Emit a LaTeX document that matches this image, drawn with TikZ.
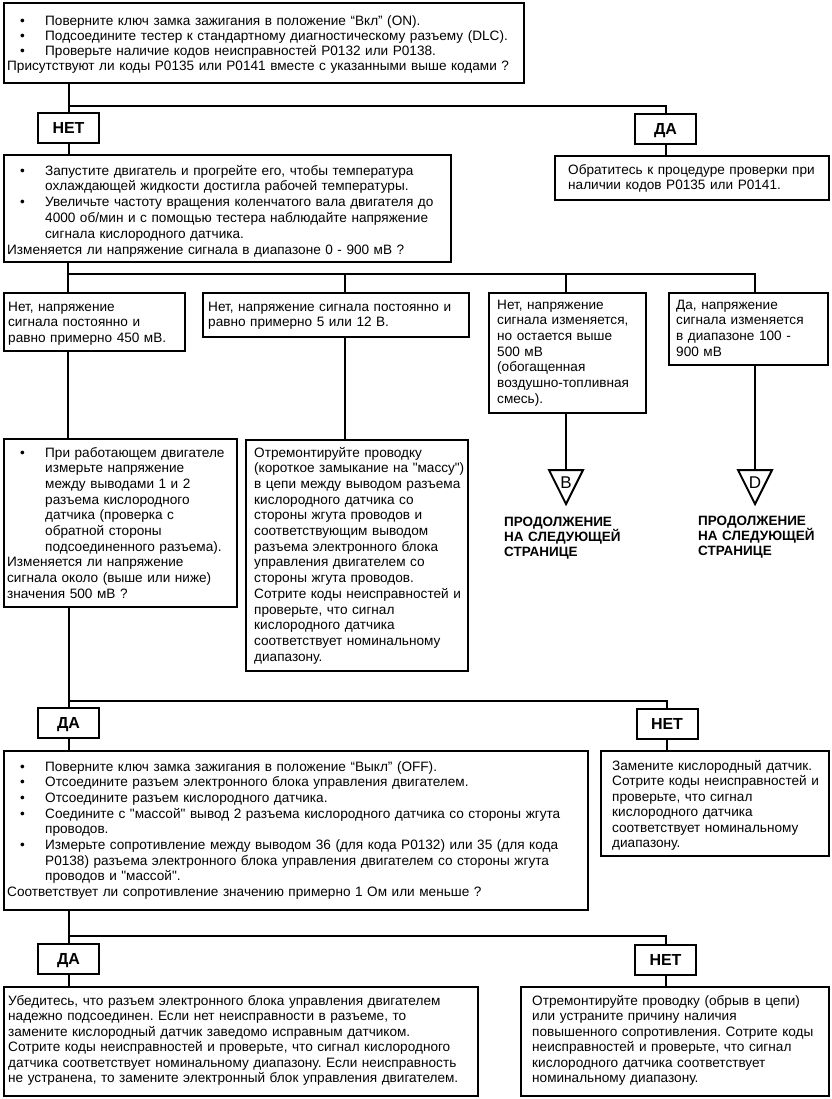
\documentclass[tikz,border=0pt]{standalone}
\usepackage{fontspec}
\setmainfont{Liberation Sans}[Ligatures=TeXOff]
\frenchspacing
\newcommand\bul{\hspace*{13bp}\makebox[25bp][l]{\textbullet}}
\newcommand\ind{\hspace*{38bp}}
\newcommand\mkbox[5]{\node[bx, minimum width={#4bp-#2bp}, minimum height={#5bp-#3bp}] (#1) at (#2,#3) {};}
\begin{document}
\frenchspacing
\begin{tikzpicture}[x=1bp,y=-1bp,
  bx/.style={draw, line width=2bp, inner sep=0pt, anchor=north west},
  txt/.style={inner sep=0pt, anchor=base west, text width=620bp, align=left},
  lbl/.style={draw, line width=2bp, inner sep=0pt, minimum width=61bp, minimum height=30bp, text height=11.6bp, text depth=0pt, font=\bfseries\fontsize{16bp}{18bp}\selectfont},
  cont/.style={inner sep=0pt, anchor=base west, text width=200bp, align=left, font=\bfseries\fontsize{13.5bp}{15bp}\selectfont},
  tri/.style={font=\fontsize{17bp}{18bp}\selectfont, inner sep=0pt},
  ln/.style={line width=2bp},
]
\useasboundingbox (0,0) rectangle (832,1099);
% boxes
\mkbox{b1}{3}{2}{523}{82}
\mkbox{b2}{3}{154}{450}{261}
\mkbox{b3}{554}{155}{828}{199}
\mkbox{bA}{3}{292}{184}{350}
\mkbox{bB}{202}{292}{468}{336}
\mkbox{bC}{488}{292}{645}{412}
\mkbox{bD}{668}{292}{827}{364}
\mkbox{bE}{3}{438}{236}{606}
\mkbox{bF}{245}{439}{467}{670}
\mkbox{bG}{3}{750}{587}{909}
\mkbox{bH}{600}{750}{828}{855}
\mkbox{bI}{3}{986}{477}{1095}
\mkbox{bJ}{520}{986}{828}{1095}
% labels
\node[lbl] (net1) at (68.5,127.5) {НЕТ};
\node[lbl] (da1) at (665.5,128.5) {ДА};
\node[lbl] (da2) at (68.5,723) {ДА};
\node[lbl] (net2) at (667,723.5) {НЕТ};
\node[lbl] (da3) at (68.5,958.5) {ДА};
\node[lbl] (net3) at (665.5,959.5) {НЕТ};
% texts
\begin{scope}[every node/.append style={font=\fontsize{13.6bp}{15bp}\selectfont}]
\node[txt] (t1) at (7,25) {\bul Поверните ключ замка зажигания в положение “Вкл” (ON).\\
\bul Подсоедините тестер к стандартному диагностическому разъему (DLC).\\
\bul Проверьте наличие кодов неисправностей P0132 или P0138.\\
Присутствуют ли коды P0135 или P0141 вместе с указанными выше кодами ?};
\node[txt] (t3) at (568,174) {Обратитесь к процедуре проверки при\\
наличии кодов P0135 или P0141.};
\end{scope}
\begin{scope}[every node/.append style={font=\fontsize{13.6bp}{15.8bp}\selectfont}]
\node[txt] (t2) at (7,175) {\bul Запустите двигатель и прогрейте его, чтобы температура\\
\ind охлаждающей жидкости достигла рабочей температуры.\\
\bul Увеличьте частоту вращения коленчатого вала двигателя до\\
\ind 4000 об/мин и с помощью тестера наблюдайте напряжение\\
\ind сигнала кислородного датчика.\\
Изменяется ли напряжение сигнала в диапазоне 0 - 900 мВ ?};
\node[txt] (tA) at (8,311) {Нет, напряжение\\
сигнала постоянно и\\
равно примерно 450 мВ.};
\node[txt] (tB) at (208,311) {Нет, напряжение сигнала постоянно и\\
равно примерно 5 или 12 В.};
\end{scope}
\begin{scope}[every node/.append style={font=\fontsize{13.6bp}{15.7bp}\selectfont}]
\node[txt] (tC) at (497,309) {Нет, напряжение\\
сигнала изменяется,\\
но остается выше\\
500 мВ\\
(обогащенная\\
воздушно-топливная\\
смесь).};
\node[txt] (tD) at (676,309) {Да, напряжение\\
сигнала изменяется\\
в диапазоне 100 -\\
900 мВ};
\node[txt] (tE) at (7,457) {\bul При работающем двигателе\\
\ind измерьте напряжение\\
\ind между выводами 1 и 2\\
\ind разъема кислородного\\
\ind датчика (проверка с\\
\ind обратной стороны\\
\ind подсоединенного разъема).\\
Изменяется ли напряжение\\
сигнала около (выше или ниже)\\
значения 500 мВ ?};
\node[txt] (tF) at (254,457) {Отремонтируйте проводку\\
(короткое замыкание на "массу")\\
в цепи между выводом разъема\\
кислородного датчика со\\
стороны жгута проводов и\\
соответствующим выводом\\
разъема электронного блока\\
управления двигателем со\\
стороны жгута проводов.\\
Сотрите коды неисправностей и\\
проверьте, что сигнал\\
кислородного датчика\\
соответствует номинальному\\
диапазону.};
\node[txt] (tG) at (7,771) {\bul Поверните ключ замка зажигания в положение “Выкл” (OFF).\\
\bul Отсоедините разъем электронного блока управления двигателем.\\
\bul Отсоедините разъем кислородного датчика.\\
\bul Соедините с "массой" вывод 2 разъема кислородного датчика со стороны жгута\\
\ind проводов.\\
\bul Измерьте сопротивление между выводом 36 (для кода P0132) или 35 (для кода\\
\ind P0138) разъема электронного блока управления двигателем со стороны жгута\\
\ind проводов и "массой".\\
Соответствует ли сопротивление значению примерно 1 Ом или меньше ?};
\end{scope}
\begin{scope}[every node/.append style={font=\fontsize{13.6bp}{15.5bp}\selectfont}]
\node[txt] (tH) at (612,770) {Замените кислородный датчик.\\
Сотрите коды неисправностей и\\
проверьте, что сигнал\\
кислородного датчика\\
соответствует номинальному\\
диапазону.};
\node[txt] (tI) at (8,1005) {Убедитесь, что разъем электронного блока управления двигателем\\
надежно подсоединен. Если нет неисправности в разъеме, то\\
замените кислородный датчик заведомо исправным датчиком.\\
Сотрите коды неисправностей и проверьте, что сигнал кислородного\\
датчика соответствует номинальному диапазону. Если неисправность\\
не устранена, то замените электронный блок управления двигателем.};
\node[txt] (tJ) at (532,1005) {Отремонтируйте проводку (обрыв в цепи)\\
или устраните причину наличия\\
повышенного сопротивления. Сотрите коды\\
неисправностей и проверьте, что сигнал\\
кислородного датчика соответствует\\
номинальному диапазону.};
\end{scope}
% triangles
\coordinate (trB) at (566,470);
\coordinate (trD) at (755,470);
\draw[ln, line join=miter] (549,470) -- (583,470) -- (566,504) -- cycle;
\draw[ln, line join=miter] (738,470) -- (772,470) -- (755,504) -- cycle;
\node[tri] (lB) at (566,483) {B};
\node[tri] (lD) at (755,483) {D};
\node[cont] (cB) at (504,526) {ПРОДОЛЖЕНИЕ\\НА СЛЕДУЮЩЕЙ\\СТРАНИЦЕ};
\node[cont] (cD) at (698,525) {ПРОДОЛЖЕНИЕ\\НА СЛЕДУЮЩЕЙ\\СТРАНИЦЕ};
% junction coordinates
\coordinate (j1) at (0,106);
\coordinate (j2) at (68,274);
\coordinate (j2e) at (755,274);
\coordinate (xB) at (345,0);
\coordinate (xC) at (566,0);
\coordinate (j3) at (0,701);
\coordinate (j4) at (0,936);
% connectors
\draw[ln] (b1.south -| net1) -- (net1.north);
\draw[ln] (net1.north |- j1) -| (da1.north);
\draw[ln] (net1.south) -- (net1.south |- b2.north);
\draw[ln] (da1.south) -- (da1.south |- b3.north);
\draw[ln] (b2.south -| j2) -- (bA.north -| j2);
\draw[ln] (j2) -- (j2e) -- (bD.north -| j2e);
\draw[ln] (j2 -| xB) -- (bB.north -| xB);
\draw[ln] (j2 -| xC) -- (bC.north -| xC);
\draw[ln] (bA.south -| j2) -- (bE.north -| j2);
\draw[ln] (bB.south -| xB) -- (bF.north -| xB);
\draw[ln] (bC.south -| xC) -- (trB);
\draw[ln] (bD.south -| j2e) -- (trD);
\draw[ln] (bE.south -| da2) -- (da2.north);
\draw[ln] (da2.north |- j3) -| (net2.north);
\draw[ln] (da2.south) -- (da2.south |- bG.north);
\draw[ln] (net2.south) -- (net2.south |- bH.north);
\draw[ln] (bG.south -| da3) -- (da3.north);
\draw[ln] (da3.north |- j4) -| (net3.north);
\draw[ln] (da3.south) -- (da3.south |- bI.north);
\draw[ln] (net3.south) -- (net3.south |- bJ.north);
\end{tikzpicture}
\end{document}
